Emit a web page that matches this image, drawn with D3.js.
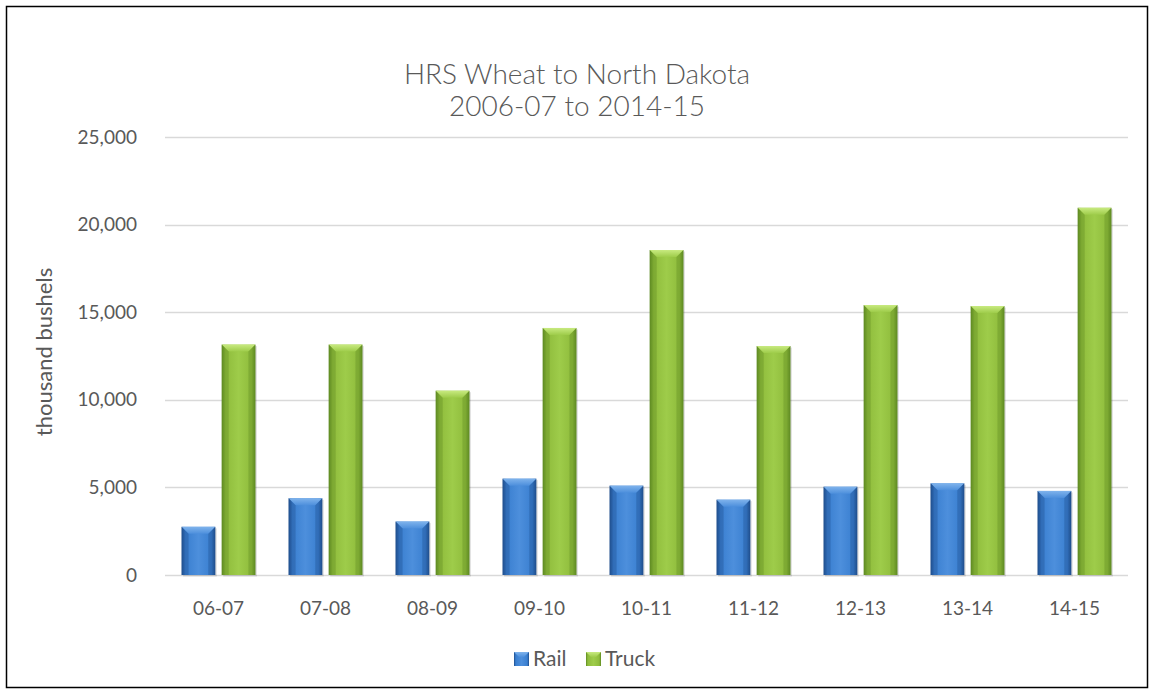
<!DOCTYPE html>
<html lang="en">
<head>
<meta charset="UTF-8">
<title>HRS Wheat to North Dakota</title>
<script src="https://cdn.jsdelivr.net/npm/d3@7"></script>
<style>
  body { margin: 0; background: #fff; overflow: hidden; }
  text { font-family: Lato, "Open Sans", sans-serif; fill: #595959; }
  .title { font-weight: 300; }
</style>
</head>
<body>
<script>
const categories = ["06-07", "07-08", "08-09", "09-10", "10-11", "11-12", "12-13", "13-14", "14-15"];
const rail = [2750, 4380, 3050, 5500, 5100, 4300, 5040, 5230, 4800];
const truck = [13150, 13150, 10520, 14100, 18550, 13070, 15410, 15350, 20960];
const yTicks = [0, 5000, 10000, 15000, 20000, 25000];
const seriesNames = ["Rail", "Truck"];

const W = 1154, H = 694;
const plot = {left: 165, right: 1128, top: 137, bottom: 575};

const svg = d3.select("body").append("svg").attr("width", W).attr("height", H);
const defs = svg.append("defs");

// body gradient per series: dark edges, light middle
const palettes = {
  Rail: {dark: "#1f4e8c", mid: "#3a7fd0", light: "#4d8fdc", top: "#7fb3ec"},
  Truck: {dark: "#5e8a22", mid: "#8fbc3c", light: "#9ecc4a", top: "#c8ea80"}
};
seriesNames.forEach(name => {
  const p = palettes[name];
  const g = defs.append("linearGradient").attr("id", "body-" + name).attr("x1", 0).attr("x2", 1).attr("y1", 0).attr("y2", 0);
  g.append("stop").attr("offset", "0%").attr("stop-color", p.dark);
  g.append("stop").attr("offset", "12%").attr("stop-color", p.mid);
  g.append("stop").attr("offset", "50%").attr("stop-color", p.light);
  g.append("stop").attr("offset", "88%").attr("stop-color", p.mid);
  g.append("stop").attr("offset", "100%").attr("stop-color", p.dark);
  const t = defs.append("linearGradient").attr("id", "top-" + name).attr("x1", 0).attr("x2", 0).attr("y1", 0).attr("y2", 1);
  t.append("stop").attr("offset", "0%").attr("stop-color", p.top);
  t.append("stop").attr("offset", "100%").attr("stop-color", p.light);
});

// outer border
svg.append("rect").attr("x", 6.5).attr("y", 6.5).attr("width", W - 13).attr("height", H - 13)
  .attr("fill", "none").attr("stroke", "#000").attr("stroke-width", 1.5);

const x = d3.scaleBand().domain(categories).range([plot.left, plot.right]).paddingInner(0.31).paddingOuter(0.155);
const xs = d3.scaleBand().domain(seriesNames).range([0, x.bandwidth()]).paddingInner(0.16);
const y = d3.scaleLinear().domain([0, 25000]).range([plot.bottom, plot.top]);

// gridlines
svg.append("g").selectAll("line").data(yTicks).join("line")
  .attr("x1", plot.left).attr("x2", plot.right)
  .attr("y1", d => Math.round(y(d)) + 0.5).attr("y2", d => Math.round(y(d)) + 0.5)
  .attr("stroke", "#d9d9d9").attr("stroke-width", 1.5);

// y axis labels
const yAxis = svg.append("g").attr("transform", `translate(${plot.left - 28},0)`)
  .call(d3.axisLeft(y).tickValues(yTicks).tickSize(0).tickPadding(0).tickFormat(d3.format(",")));
yAxis.select(".domain").remove();
yAxis.selectAll("text").style("font-size", "19px").attr("fill", "#595959");

// x axis labels
const xAxis = svg.append("g").attr("transform", `translate(0,${plot.bottom + 26})`)
  .call(d3.axisBottom(x).tickSize(0).tickPadding(0));
xAxis.select(".domain").remove();
xAxis.selectAll("text").style("font-size", "19px").attr("fill", "#595959");

// bars
const rows = categories.map((c, i) => ({cat: c, Rail: rail[i], Truck: truck[i]}));
const groups = svg.append("g").selectAll("g").data(rows).join("g")
  .attr("transform", d => `translate(${x(d.cat)},0)`);

const bev = 7;
groups.selectAll("g").data(d => seriesNames.map(s => ({s, v: d[s]}))).join("g")
  .each(function(d) {
    const g = d3.select(this);
    const bx = xs(d.s), bw = xs.bandwidth();
    const top = y(d.v), h = plot.bottom - top;
    // soft shadow
    g.append("rect").attr("x", bx + 1.5).attr("y", top + 1.5).attr("width", bw).attr("height", h)
      .attr("fill", "#000").attr("opacity", 0.12);
    g.append("rect").attr("x", bx).attr("y", top).attr("width", bw).attr("height", h)
      .attr("fill", `url(#body-${d.s})`);
    // top bevel
    g.append("path")
      .attr("d", `M${bx},${top}L${bx + bw},${top}L${bx + bw - bev},${top + bev}L${bx + bev},${top + bev}Z`)
      .attr("fill", `url(#top-${d.s})`);
    g.append("path")
      .attr("d", `M${bx},${top}L${bx + bev},${top + bev}L${bx + bev},${top + h}L${bx},${top + h}Z`)
      .attr("fill", palettes[d.s].dark).attr("opacity", 0.35);
    g.append("path")
      .attr("d", `M${bx + bw},${top}L${bx + bw - bev},${top + bev}L${bx + bw - bev},${top + h}L${bx + bw},${top + h}Z`)
      .attr("fill", palettes[d.s].dark).attr("opacity", 0.35);
  });

// title
svg.append("text").attr("class", "title").attr("x", 577).attr("y", 84).attr("text-anchor", "middle")
  .style("font-size", "28px").text("HRS Wheat to North Dakota");
svg.append("text").attr("class", "title").attr("x", 577).attr("y", 116).attr("text-anchor", "middle")
  .style("font-size", "28px").text("2006-07 to 2014-15");

// y title
svg.append("text").attr("transform", "translate(52,352) rotate(-90)").attr("text-anchor", "middle")
  .style("font-size", "22px").text("thousand bushels");

// legend
const legend = svg.append("g").attr("transform", "translate(514,652)");
const legendX = {Rail: 0, Truck: 72};
seriesNames.forEach(s => {
  const lg = legend.append("g").attr("transform", `translate(${legendX[s]},0)`);
  lg.append("rect").attr("width", 15).attr("height", 14).attr("fill", `url(#body-${s})`);
  lg.append("path").attr("d", "M0,0L15,0L10,5L5,5Z").attr("fill", `url(#top-${s})`);
  lg.append("text").attr("x", 19).attr("y", 14).style("font-size", "21px").text(s);
});
</script>
</body>
</html>
